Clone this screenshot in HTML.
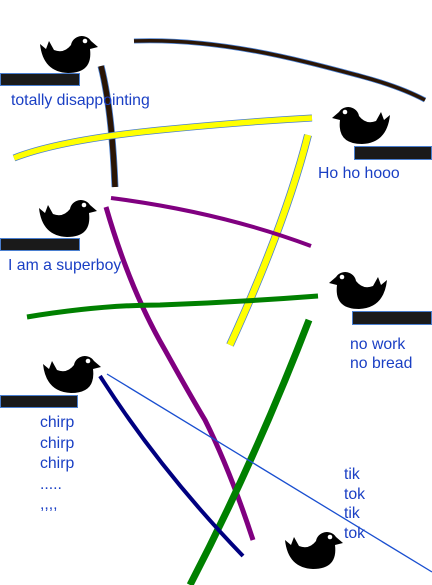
<!DOCTYPE html>
<html><head><meta charset="utf-8"><style>
html,body{margin:0;padding:0;background:#fff;}
#wrap{position:relative;width:432px;height:585px;overflow:hidden;font-family:"Liberation Sans",sans-serif;}
.t{position:absolute;color:#1a3fc4;font-size:15.8px;line-height:20px;white-space:nowrap;}
.bar{position:absolute;height:12px;background:#1a1a1a;border:1px solid #4a7fd0;box-sizing:border-box;}
</style></head><body>
<div id="wrap">
<svg width="432" height="585" style="position:absolute;left:0;top:0">
<defs>
<g id="bird">
<path d="M0,12 L6,17 L9,9 L14,18 Q24,22 31,13 A11,11 0 0 1 51,9 L58,15 L50,17 Q53,41 28,41 Q3,40 0,12 Z" fill="#000"/>
<circle cx="45" cy="9" r="2.3" fill="#fff"/>
</g>
</defs>
<g fill="none" stroke-linecap="butt">
<path d="M134,41 C220,38 300,60 360,76 C390,84 410,92 425,100" stroke="#4a7fd0" stroke-width="5"/>
<path d="M134,41 C220,38 300,60 360,76 C390,84 410,92 425,100" stroke="#2a1505" stroke-width="3.5"/>
<path d="M101,66 Q112,110 115,187" stroke="#4a7fd0" stroke-width="7"/>
<path d="M101,66 Q112,110 115,187" stroke="#2a1505" stroke-width="5.5"/>
<path d="M14,158 Q60,140 160,130 Q240,122 312,118" stroke="#4a7fd0" stroke-width="7"/>
<path d="M14,158 Q60,140 160,130 Q240,122 312,118" stroke="#ffff00" stroke-width="5.5"/>
<path d="M308,135 Q285,225 230,345" stroke="#4a7fd0" stroke-width="8"/>
<path d="M308,135 Q285,225 230,345" stroke="#ffff00" stroke-width="6.5"/>
<path d="M111,198 Q220,212 311,246" stroke="#800080" stroke-width="4"/>
<path d="M106,207 Q130,290 165,350 Q190,395 205,420 Q230,470 253,540" stroke="#800080" stroke-width="5"/>
<path d="M27,317 Q100,305 160,305 Q240,302 318,296" stroke="#008000" stroke-width="5"/>
<path d="M309,320 Q255,460 190,585" stroke="#008000" stroke-width="7"/>
<path d="M100,376 Q160,470 243,556" stroke="#000080" stroke-width="4"/>
<path d="M107,374 L432,572" stroke="#1a4fd0" stroke-width="1.3"/>
</g>
<use href="#bird" transform="translate(40,32)"/>
<use href="#bird" transform="translate(390,103) scale(-1,1)"/>
<use href="#bird" transform="translate(39,196)"/>
<use href="#bird" transform="translate(387,268) scale(-1,1)"/>
<use href="#bird" transform="translate(43,352)"/>
<use href="#bird" transform="translate(285,528)"/>
</svg>
<div class="bar" style="left:0;top:73px;width:80px;height:13px"></div>
<div class="bar" style="left:354px;top:146px;width:78px;height:14px"></div>
<div class="bar" style="left:0;top:238px;width:80px;height:13px"></div>
<div class="bar" style="left:352px;top:311px;width:80px;height:14px"></div>
<div class="bar" style="left:0;top:395px;width:78px;height:13px"></div>
<div class="t" style="left:11px;top:91px">totally disappointing</div>
<div class="t" style="left:318px;top:164px">Ho ho hooo</div>
<div class="t" style="left:8px;top:256px">I am a superboy</div>
<div class="t" style="left:350px;top:335px;line-height:19px">no work<br>no bread</div>
<div class="t" style="left:40px;top:413px;line-height:20.5px">chirp<br>chirp<br>chirp<br>.....<br>,,,,</div>
<div class="t" style="left:344px;top:465px;line-height:19.7px">tik<br>tok<br>tik<br>tok</div>
</div>
</body></html>
